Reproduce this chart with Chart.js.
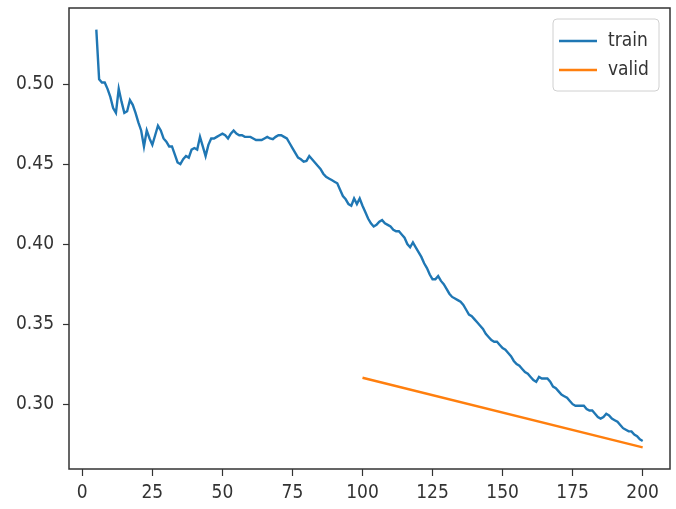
<!DOCTYPE html>
<html>
<head>
<meta charset="utf-8">
<script src="https://cdn.jsdelivr.net/npm/chart.js@4.4.1/dist/chart.umd.min.js"></script>
<style>
html, body { margin: 0; padding: 0; background: #fff; }
#wrap { width: 676px; height: 509px; }
</style>
</head>
<body>
<div id="wrap"><canvas id="grafica" width="676" height="509"></canvas></div>
<script>
// datos
const trainStart = 5;
const trainLoss = [
    0.534, 0.503, 0.501, 0.501, 0.497, 0.492, 0.485, 0.482, 0.497, 0.489,
    0.482, 0.483, 0.490, 0.487, 0.482, 0.476, 0.471, 0.461, 0.471, 0.466,
    0.462, 0.468, 0.474, 0.471, 0.466, 0.464, 0.461, 0.461, 0.456, 0.451,
    0.450, 0.453, 0.455, 0.454, 0.459, 0.460, 0.459, 0.467, 0.461, 0.455,
    0.462, 0.466, 0.466, 0.467, 0.468, 0.469, 0.468, 0.466, 0.469, 0.471,
    0.469, 0.468, 0.468, 0.467, 0.467, 0.467, 0.466, 0.465, 0.465, 0.465,
    0.466, 0.467, 0.466, 0.4655, 0.467, 0.468, 0.468, 0.467, 0.466, 0.463,
    0.460, 0.457, 0.454, 0.453, 0.4515, 0.452, 0.455, 0.453, 0.451, 0.449,
    0.447, 0.444, 0.442, 0.441, 0.440, 0.439, 0.438, 0.434, 0.430, 0.428,
    0.425, 0.424, 0.4285, 0.425, 0.4285, 0.424, 0.420, 0.416, 0.413, 0.411,
    0.412, 0.414, 0.415, 0.413, 0.412, 0.411, 0.409, 0.408, 0.408, 0.406,
    0.404, 0.400, 0.398, 0.401, 0.398, 0.395, 0.392, 0.388, 0.385, 0.381,
    0.378, 0.378, 0.380, 0.377, 0.375, 0.372, 0.369, 0.367, 0.366, 0.365,
    0.364, 0.362, 0.359, 0.356, 0.355, 0.353, 0.351, 0.349, 0.347, 0.344,
    0.342, 0.340, 0.339, 0.339, 0.337, 0.335, 0.334, 0.332, 0.330, 0.327,
    0.325, 0.324, 0.322, 0.320, 0.319, 0.317, 0.315, 0.314, 0.317, 0.316,
    0.316, 0.316, 0.314, 0.311, 0.310, 0.308, 0.306, 0.305, 0.304, 0.302,
    0.300, 0.299, 0.299, 0.299, 0.299, 0.297, 0.296, 0.296, 0.294, 0.292,
    0.291, 0.292, 0.294, 0.293, 0.291, 0.290, 0.289, 0.287, 0.285, 0.284,
    0.283, 0.283, 0.281, 0.280, 0.278, 0.277
];
const validEpochs = [100, 200];
const validLoss = [0.3165, 0.273];
const xTicks = [0, 25, 50, 75, 100, 125, 150, 175, 200];
const yTicks = [0.30, 0.35, 0.40, 0.45, 0.50];
const seriesNames = ['train', 'valid'];
const seriesColors = ['#1f77b4', '#ff7f0e'];

const fuente = "'DejaVu Sans Condensed', 'DejaVu Sans', sans-serif";
Chart.defaults.font.family = fuente;
Chart.defaults.font.size = 19;
Chart.defaults.color = '#333';

const trainPts = trainLoss.map((v, i) => ({ x: trainStart + i, y: v }));
const validPts = validLoss.map((v, i) => ({ x: validEpochs[i], y: v }));

// marco de ejes y leyenda estilo matplotlib
const marcoLeyenda = {
    id: 'marcoLeyenda',
    afterDraw(chart) {
        const { ctx, chartArea: a } = chart;
        ctx.save();
        ctx.strokeStyle = '#333';
        ctx.lineWidth = 1.5;
        ctx.strokeRect(a.left, a.top, a.right - a.left, a.bottom - a.top);

        // leyenda
        const bx = 553, by = 19, bw = 106, bh = 72;
        ctx.fillStyle = 'rgba(255,255,255,0.85)';
        ctx.strokeStyle = '#d0d0d0';
        ctx.lineWidth = 1;
        ctx.beginPath();
        ctx.roundRect(bx, by, bw, bh, 4);
        ctx.fill();
        ctx.stroke();

        ctx.font = '19px ' + fuente;
        ctx.textBaseline = 'middle';
        ctx.textAlign = 'left';
        seriesNames.forEach((n, i) => {
            const y = by + 22 + i * 29;
            ctx.strokeStyle = seriesColors[i];
            ctx.lineWidth = 2.5;
            ctx.beginPath();
            ctx.moveTo(bx + 6, y);
            ctx.lineTo(bx + 44, y);
            ctx.stroke();
            ctx.fillStyle = '#333';
            ctx.fillText(n, bx + 55, y);
        });
        ctx.restore();
    }
};

const sinPadding = (s) => {
    s.paddingTop = 0; s.paddingBottom = 0;
    s.paddingLeft = 0; s.paddingRight = 0;
};

new Chart(document.getElementById('grafica'), {
    type: 'line',
    data: {
        datasets: [
            {
                label: seriesNames[0],
                data: trainPts,
                borderColor: seriesColors[0],
                borderWidth: 2.4,
                pointRadius: 0,
                tension: 0
            },
            {
                label: seriesNames[1],
                data: validPts,
                borderColor: seriesColors[1],
                borderWidth: 2.4,
                pointRadius: 0,
                tension: 0
            }
        ]
    },
    options: {
        responsive: false,
        animation: false,
        devicePixelRatio: 1,
        layout: { padding: { top: 8, right: 6, left: 0, bottom: 0 } },
        plugins: { legend: { display: false }, tooltip: { enabled: false } },
        scales: {
            x: {
                type: 'linear',
                min: -4.75,
                max: 209.75,
                afterBuildTicks: (s) => { s.ticks = xTicks.map(v => ({ value: v })); },
                afterFit: (s) => { s.height = 40; sinPadding(s); },
                grid: { drawOnChartArea: false, drawTicks: true, tickLength: 7, tickColor: '#333', tickWidth: 1.2 },
                border: { display: false },
                ticks: { padding: 6, maxRotation: 0, autoSkip: false, callback: v => String(v) }
            },
            y: {
                type: 'linear',
                min: 0.2595,
                max: 0.5475,
                afterBuildTicks: (s) => { s.ticks = yTicks.map(v => ({ value: v })); },
                afterFit: (s) => { s.width = 69; sinPadding(s); },
                grid: { drawOnChartArea: false, drawTicks: true, tickLength: 6, tickColor: '#333', tickWidth: 1.2 },
                border: { display: false },
                ticks: { padding: 9, autoSkip: false, callback: v => v.toFixed(2) }
            }
        }
    },
    plugins: [marcoLeyenda]
});
</script>
</body>
</html>
